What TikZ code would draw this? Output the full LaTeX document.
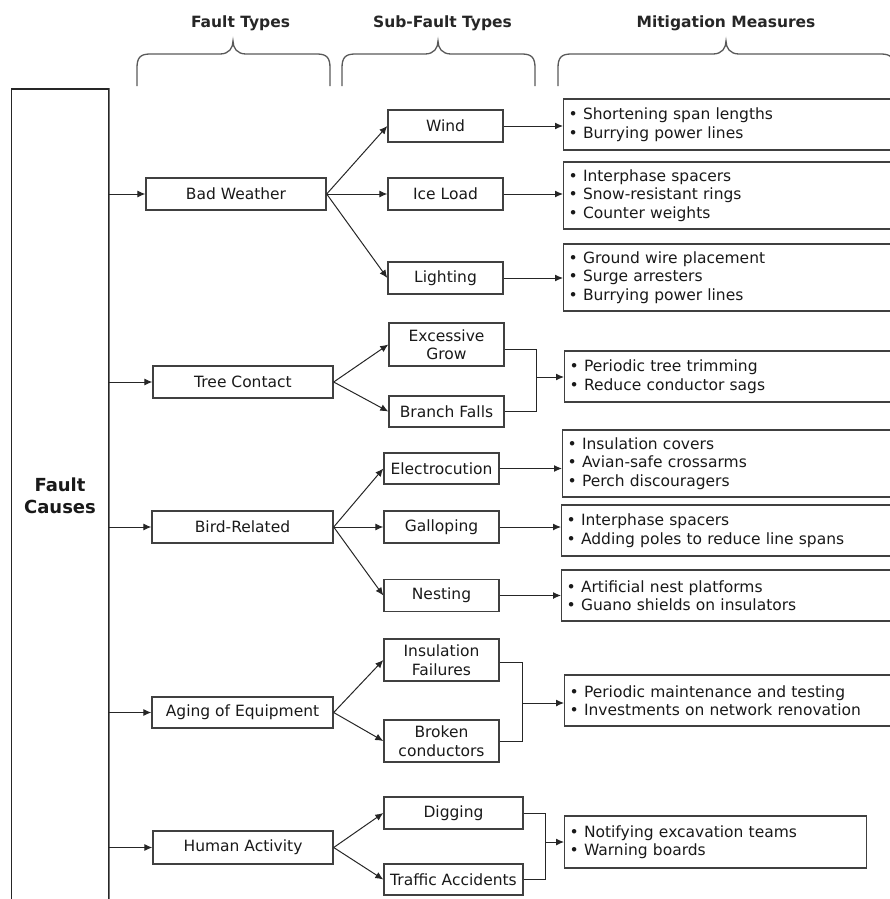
\documentclass[tikz,border=0pt]{standalone}
\usepackage{fontspec}
\setmainfont{DejaVu Sans}
\usetikzlibrary{arrows.meta}
\newcommand\myfs{\fontsize{15.5}{18.5}\selectfont}
\begin{document}
\begin{tikzpicture}[x=1pt,y=-1pt,
  box/.style={draw=black!75, line width=1.4pt, inner sep=0pt, align=center, font=\myfs, text=black!90},
  ftbox/.style={box, minimum width=180pt, minimum height=32pt},
  sfbox/.style={box, minimum width=115pt, minimum height=32pt},
  mmbox/.style={box, anchor=west, align=left, inner xsep=5pt, inner ysep=0pt, text width=330pt},
  cn/.style={draw=black!85, line width=1pt},
  arr/.style={cn, -{Latex[length=8pt,width=7pt]}},
  brace/.style={draw=black!65, line width=1.3pt},
  title/.style={font=\fontsize{15.5}{17}\selectfont\bfseries, text=black!85}]
\useasboundingbox (0,0) rectangle (890,899);
\clip (0,0) rectangle (890,899);
% titles
\node[title] (t1) at (240.5,23) {Fault Types};
\node[title] (t2) at (442.5,23) {Sub-Fault Types};
\node[title] (t3) at (726,23) {Mitigation Measures};
% braces
\draw[brace] (137,86) -- (137,68) .. controls (137,58) and (140,54) .. (150,54) -- (220,54) .. controls (229,54) and (233,48) .. (233,41) .. controls (233,48) and (237,54) .. (246,54) -- (317,54) .. controls (327,54) and (330,58) .. (330,68) -- (330,86);
\draw[brace] (342,86) -- (342,68) .. controls (342,58) and (345,54) .. (355,54) -- (425,54) .. controls (434,54) and (438,48) .. (438,41) .. controls (438,48) and (442,54) .. (451,54) -- (522,54) .. controls (532,54) and (535,58) .. (535,68) -- (535,86);
\draw[brace] (558,86) -- (558,68) .. controls (558,58) and (561,54) .. (571,54) -- (713,54) .. controls (722,54) and (726,48) .. (726,41) .. controls (726,48) and (730,54) .. (739,54) -- (881,54) .. controls (891,54) and (894,58) .. (894,68) -- (894,86);
% Fault causes
\node[box, draw=black!85, minimum width=97pt, minimum height=814pt, font=\fontsize{18}{22}\selectfont\bfseries] (fc) at (60,496) {Fault\\Causes};
\draw[black!55, line width=1.4pt] (fc.north east) -- (fc.south east);
% fault types
\node[ftbox] (bw) at (236,194) {Bad Weather};
\node[ftbox] (tc) at (243,382) {Tree Contact};
\node[ftbox, minimum width=181pt] (br) at (242.5,527) {Bird-Related};
\node[ftbox, minimum width=181pt, minimum height=31pt] (ag) at (242.5,712.5) {Aging of Equipment};
\node[ftbox, minimum height=33pt] (ha) at (243,847.5) {Human Activity};
% sub-fault types
\node[sfbox] (wind) at (445.5,126) {Wind};
\node[sfbox] (ice) at (445.5,194) {Ice Load};
\node[sfbox] (light) at (445.5,278) {Lighting};
\node[sfbox, minimum height=43pt] (exc) at (446.5,344.5) {Excessive\\Grow};
\node[sfbox, minimum height=31pt] (bf) at (446.5,411.5) {Branch Falls};
\node[sfbox, minimum height=31pt] (elec) at (441.5,468.5) {Electrocution};
\node[sfbox] (gal) at (441.5,527) {Galloping};
\node[sfbox] (nest) at (441.5,595.5) {Nesting};
\node[sfbox, minimum height=42pt] (insf) at (441.5,660) {Insulation\\Failures};
\node[sfbox, minimum height=42pt] (brok) at (441.5,741) {Broken\\conductors};
\node[sfbox, minimum width=139pt] (dig) at (453.5,813) {Digging};
\node[sfbox, minimum width=139pt, minimum height=31pt] (traf) at (453.5,879.5) {Traffic Accidents};
% mitigation measures
\node[mmbox, minimum height=51pt] (m1) at (563,124.5) {• Shortening span lengths\\• Burrying power lines};
\node[mmbox, minimum height=67pt] (m2) at (563,195.5) {• Interphase spacers\\• Snow-resistant rings\\• Counter weights};
\node[mmbox, minimum height=67pt] (m3) at (563,277.5) {• Ground wire placement\\• Surge arresters\\• Burrying power lines};
\node[mmbox, minimum height=51pt] (m4) at (564,376.5) {• Periodic tree trimming\\• Reduce conductor sags};
\node[mmbox, minimum height=67pt] (m5) at (562,463.5) {• Insulation covers\\• Avian-safe crossarms\\• Perch discouragers};
\node[mmbox, minimum height=51pt] (m6) at (561,530.5) {• Interphase spacers\\• Adding poles to reduce line spans};
\node[mmbox, minimum height=51pt] (m7) at (561,595.5) {• Artificial nest platforms\\• Guano shields on insulators};
\node[mmbox, minimum height=51pt] (m8) at (564,700.5) {• Periodic maintenance and testing\\• Investments on network renovation};
\node[mmbox, minimum height=52pt, text width=292pt] (m9) at (564,842) {• Notifying excavation teams\\• Warning boards};
% trunk arrows
\foreach \n in {bw,tc,br,ag,ha} \draw[arr] (\n.west -| fc.east) -- (\n.west);
% fault -> sub-fault
\draw[arr] (bw.east) -- (wind.west);
\draw[arr] (bw.east) -- (ice.west);
\draw[arr] (bw.east) -- (light.west);
\draw[arr] (tc.east) -- (exc.west);
\draw[arr] (tc.east) -- (bf.west);
\draw[arr] (br.east) -- (elec.west);
\draw[arr] (br.east) -- (gal.west);
\draw[arr] (br.east) -- (nest.west);
\draw[arr] (ag.east) -- (insf.west);
\draw[arr] (ag.east) -- (brok.west);
\draw[arr] (ha.east) -- (dig.west);
\draw[arr] (ha.east) -- (traf.west);
% sub-fault -> mitigation
\draw[arr] (wind.east) -- (wind.east -| m1.west);
\draw[arr] (ice.east) -- (ice.east -| m2.west);
\draw[arr] (light.east) -- (light.east -| m3.west);
\draw[arr] (elec.east) -- (elec.east -| m5.west);
\draw[arr] (gal.east) -- (gal.east -| m6.west);
\draw[arr] (nest.east) -- (nest.east -| m7.west);
% merges
\coordinate (j1) at (536,377);
\draw[cn] ([yshift=-5pt]exc.east) -| (j1);
\draw[cn] (bf.east) -| (j1);
\draw[arr] (j1) -- (j1 -| m4.west);
\coordinate (j2) at (522,703);
\draw[cn] ([yshift=-2pt]insf.east) -| (j2);
\draw[cn] (brok.east) -| (j2);
\draw[arr] (j2) -- (j2 -| m8.west);
\coordinate (j3) at (545,842);
\draw[cn] (dig.east) -| (j3);
\draw[cn] (traf.east) -| (j3);
\draw[arr] (j3) -- (j3 -| m9.west);
\end{tikzpicture}
\end{document}
